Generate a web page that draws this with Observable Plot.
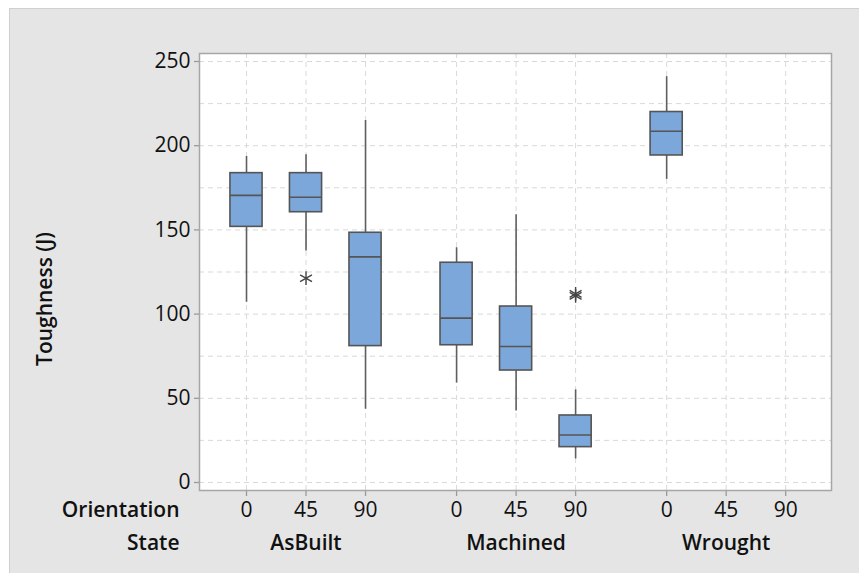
<!DOCTYPE html>
<html><head><meta charset="utf-8">
<script src="https://cdn.jsdelivr.net/npm/d3@7"></script>
<script src="https://cdn.jsdelivr.net/npm/@observablehq/plot@0.6"></script>
<style>
html,body{margin:0;padding:0;background:#fff;}
#wrap{position:relative;width:859px;height:573px;overflow:hidden;}
#panel{position:absolute;left:9px;top:8px;right:0;bottom:0;background:#e5e5e5;border-top:1px solid #cfcfcf;border-left:1px solid #cfcfcf;}
#chart{position:absolute;left:0;top:0;}
#chart svg g[aria-label^="x-axis"] line, #chart svg g[aria-label^="y-axis"] line,
#chart svg g[aria-label="x-axis tick"] path, #chart svg g[aria-label="y-axis tick"] path{stroke:#9a9a9a;stroke-width:1.3;}
#chart svg g[aria-label^="x-axis"] text, #chart svg g[aria-label^="y-axis"] text{font-size:21px;fill:#111;}
</style></head>
<body><div id="wrap"><div id="panel"></div><div id="chart"></div></div>
<script>
const states = ["AsBuilt", "Machined", "Wrought"];
const orientations = ["0", "45", "90"];
const groupGap = 0.53;

const boxState = ["AsBuilt", "AsBuilt", "AsBuilt", "Machined", "Machined", "Machined", "Wrought"];
const boxOrient = ["0", "45", "90", "0", "45", "90", "0"];
const whiskerLow = [107, 137.5, 43.5, 59, 42.5, 14, 180];
const q1 = [151.8, 160.5, 81, 81.5, 66.5, 21, 194.2];
const median = [170.5, 169.4, 134, 97.6, 80.8, 28.2, 208.6];
const q3 = [183.7, 183.7, 148.3, 130.5, 104.5, 39.8, 220];
const whiskerHigh = [193.6, 194.6, 215, 139.4, 159, 55, 241];

const outlierState = ["AsBuilt", "Machined", "Machined"];
const outlierOrient = ["45", "90", "90"];
const outlierValue = [121.3, 110.8, 112];

const yTicks = [0, 50, 100, 150, 200, 250];
const yGrid = [0, 25, 50, 75, 100, 125, 150, 175, 200, 225, 250];

const pos = (s, o) => states.indexOf(s) * (orientations.length + groupGap) + orientations.indexOf(o);
const halfBox = 0.27;

const slots = states.flatMap(s => orientations.map(o => ({s, o, x: pos(s, o)})));
const tickLabel = new Map(slots.map(d => [d.x, d.o]));
const boxes = boxState.map((s, i) => ({
  x: pos(s, boxOrient[i]), lo: whiskerLow[i], q1: q1[i], med: median[i], q3: q3[i], hi: whiskerHigh[i]
}));
const outliers = outlierState.map((s, i) => ({x: pos(s, outlierOrient[i]), y: outlierValue[i]}));
const stateLabels = states.map(s => ({s, x: pos(s, orientations[1])}));

const boxStroke = "#555555";
const labelFont = {fontSize: 21, fontWeight: 600, fill: "#111", lineAnchor: "middle"};
const chart = Plot.plot({
  width: 859, height: 573,
  marginLeft: 199, marginRight: 28, marginTop: 53, marginBottom: 83,
  style: {background: "transparent", fontFamily: "'Open Sans', sans-serif", fontSize: "21px", color: "#111"},
  x: {type: "linear", domain: [-0.79, 9.83], ticks: slots.map(d => d.x), tickFormat: d => tickLabel.get(d), tickSize: 6, tickPadding: 6, label: null},
  y: {domain: [-4.75, 254.75], ticks: yTicks, tickSize: 5, tickPadding: 4, label: null},
  marks: [
    Plot.frame({fill: "white", stroke: null}),
    Plot.ruleY(yGrid, {stroke: "#d9d9d9", strokeDasharray: "5,4", strokeWidth: 1}),
    Plot.ruleX(slots, {x: "x", stroke: "#d9d9d9", strokeDasharray: "5,4", strokeWidth: 1}),
    Plot.ruleX(boxes, {x: "x", y1: "lo", y2: "hi", stroke: "#5f5f5f", strokeWidth: 1.6}),
    Plot.rect(boxes, {x1: d => d.x - halfBox, x2: d => d.x + halfBox, y1: "q1", y2: "q3", fill: "#7ca7da", stroke: boxStroke, strokeWidth: 1.6}),
    Plot.ruleY(boxes, {y: "med", x1: d => d.x - halfBox, x2: d => d.x + halfBox, stroke: boxStroke, strokeWidth: 1.6}),
    Plot.dot(outliers, {x: "x", y: "y", symbol: "asterisk", r: 6.5, stroke: "#444", strokeWidth: 1.4}),
    Plot.frame({stroke: "#a6a6a6", strokeWidth: 1.5}),
    Plot.text(["Orientation"], {frameAnchor: "bottom-left", dx: -20, dy: 20, textAnchor: "end", text: d => d, ...labelFont}),
    Plot.text(["State"], {frameAnchor: "bottom-left", dx: -20, dy: 53, textAnchor: "end", text: d => d, ...labelFont}),
    Plot.text(stateLabels, {x: "x", frameAnchor: "bottom", dy: 53, textAnchor: "middle", text: "s", ...labelFont}),
    Plot.text(["Toughness (J)"], {frameAnchor: "left", dx: -154, dy: 27, rotate: -90, textAnchor: "middle", text: d => d, ...labelFont, fontSize: 21})
  ]
});
document.getElementById("chart").appendChild(chart);
</script>
</body></html>
